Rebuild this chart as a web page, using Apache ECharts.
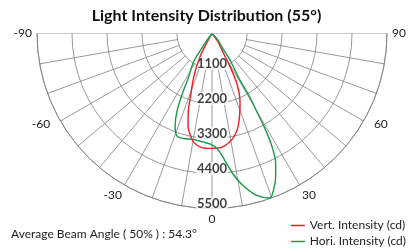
<!DOCTYPE html>
<html>
<head>
<meta charset="utf-8">
<script src="https://cdn.jsdelivr.net/npm/echarts@6/dist/echarts.min.js"></script>
<style>
  html, body { margin: 0; padding: 0; background: #fff; }
  #map { width: 413px; height: 249px; }
</style>
</head>
<body>
<div id="map"></div>
<script>
// radial rings (cd) and angle spokes (deg)
const ringValues = [1100, 2200, 3300, 4400, 5500];
const spokeAngles = [-80, -70, -60, -50, -40, -30, -20, -10, 0, 10, 20, 30, 40, 50, 60, 70, 80];
const edgeAngles = [-90, 90];

// [intensity, angle]
const vertIntensity = [
  [0, 0], [480, -29], [710, -28], [1160, -25], [1590, -22], [2060, -19], [2580, -16.8],
  [3000, -14.5], [3290, -11.8], [3470, -9.5], [3600, -5.3], [3610, -0.4], [3610, 2.1],
  [3560, 6.2], [3380, 10.9], [3110, 14.9], [2720, 18.6], [2330, 22.2], [1810, 26.1],
  [1250, 28.4], [780, 29.8], [310, 36], [0, 0]
];
const horiIntensity = [
  [0, 0], [310, -36], [1050, -33], [1600, -28], [2170, -26], [2710, -24.1], [3120, -21.8],
  [3400, -19], [3420, -15.3], [3380, -10.1], [3420, -4.8], [3480, -0.7], [3640, 2.8],
  [3980, 5.6], [4430, 8.3], [4850, 11.3], [5250, 15.1], [5480, 19.3], [5280, 21.5],
  [4920, 24], [4530, 26.2], [4000, 28], [3440, 29.1], [2850, 29.8], [2270, 30.8],
  [1650, 31], [1060, 33.9], [570, 35.9], [270, 42], [0, 0]
];

const gridColor = '#808080';
const fontFam = 'Lato, "Liberation Sans", sans-serif';

const spokeSeries = [];
spokeAngles.forEach(a => {
  spokeSeries.push({
    type: 'line', coordinateSystem: 'polar', silent: true, symbol: 'none', z: 1,
    lineStyle: { color: gridColor, width: 0.8 },
    data: [[ringValues[0], a], [ringValues[ringValues.length - 1], a]]
  });
});
edgeAngles.forEach(a => {
  spokeSeries.push({
    type: 'line', coordinateSystem: 'polar', silent: true, symbol: 'none', z: 1,
    lineStyle: { color: gridColor, width: 0.8 },
    data: [[0, a], [ringValues[ringValues.length - 1], a]]
  });
});

const myChart = echarts.init(document.getElementById('map'));
myChart.setOption({
  animation: false,
  backgroundColor: '#fff',
  textStyle: { fontFamily: fontFam },
  title: [{
    text: 'Light Intensity Distribution (55°)',
    left: 'center', top: 8, padding: 0,
    textStyle: { fontSize: 16, fontWeight: 'bold', color: '#111', fontFamily: fontFam }
  }, {
    text: 'Average Beam Angle ( 50% ) : 54.3°',
    left: 11, top: 228, padding: 0,
    textStyle: { fontSize: 12, fontWeight: 'normal', color: '#222', fontFamily: fontFam }
  }],
  legend: {
    orient: 'vertical', right: 7, top: 219, padding: 0,
    icon: 'rect', itemWidth: 14, itemHeight: 1.5, itemGap: 3,
    textStyle: { fontSize: 12, color: '#222', fontFamily: fontFam, lineHeight: 13 },
    data: ['Vert. Intensity (cd)', 'Hori. Intensity (cd)']
  },
  polar: { center: [212, 33.5], radius: 175 },
  angleAxis: {
    type: 'value', min: -90, max: 90, interval: 10,
    startAngle: 180, endAngle: 360, clockwise: false,
    axisLine: { show: true, lineStyle: { color: gridColor, width: 0.8 } },
    axisTick: { show: false },
    splitLine: { show: false },
    axisLabel: {
      margin: 5, fontSize: 12, color: '#222',
      formatter: v => {
        if (v % 30 !== 0) return '';
        if (v === -60) return '{l|' + v + '}';
        if (v === 60) return '{r|' + v + '}';
        return String(v);
      },
      rich: {
        l: { fontSize: 12, color: '#222', lineHeight: 1, padding: [0, 6, 0, 0] },
        r: { fontSize: 12, color: '#222', lineHeight: 1, padding: [0, 0, 0, 6] }
      }
    }
  },
  radiusAxis: {
    type: 'value', min: 0, max: 5500, interval: 1100,
    axisLine: { show: false }, axisTick: { show: false }, axisLabel: { show: false },
    splitLine: { show: true, lineStyle: { color: gridColor, width: 0.8 } }
  },
  series: spokeSeries.concat([
    {
      type: 'scatter', coordinateSystem: 'polar', silent: true, symbolSize: 0, z: 3,
      label: {
        show: true, position: 'inside', offset: [0, -5],
        formatter: p => String(p.value[0]),
        fontSize: 13, fontWeight: 'bold', color: '#111',
        backgroundColor: '#fff', padding: [0, 1]
      },
      data: ringValues.map(v => [v, 0])
    },
    {
      name: 'Vert. Intensity (cd)', type: 'line', coordinateSystem: 'polar',
      symbol: 'none', smooth: 0.3, clip: false, z: 5,
      lineStyle: { color: '#ec1c24', width: 1.4 }, itemStyle: { color: '#ec1c24' },
      data: vertIntensity
    },
    {
      name: 'Hori. Intensity (cd)', type: 'line', coordinateSystem: 'polar',
      symbol: 'none', smooth: 0.3, clip: false, z: 5,
      lineStyle: { color: '#1a9a48', width: 1.4 }, itemStyle: { color: '#1a9a48' },
      data: horiIntensity
    }
  ])
});
</script>
</body>
</html>
